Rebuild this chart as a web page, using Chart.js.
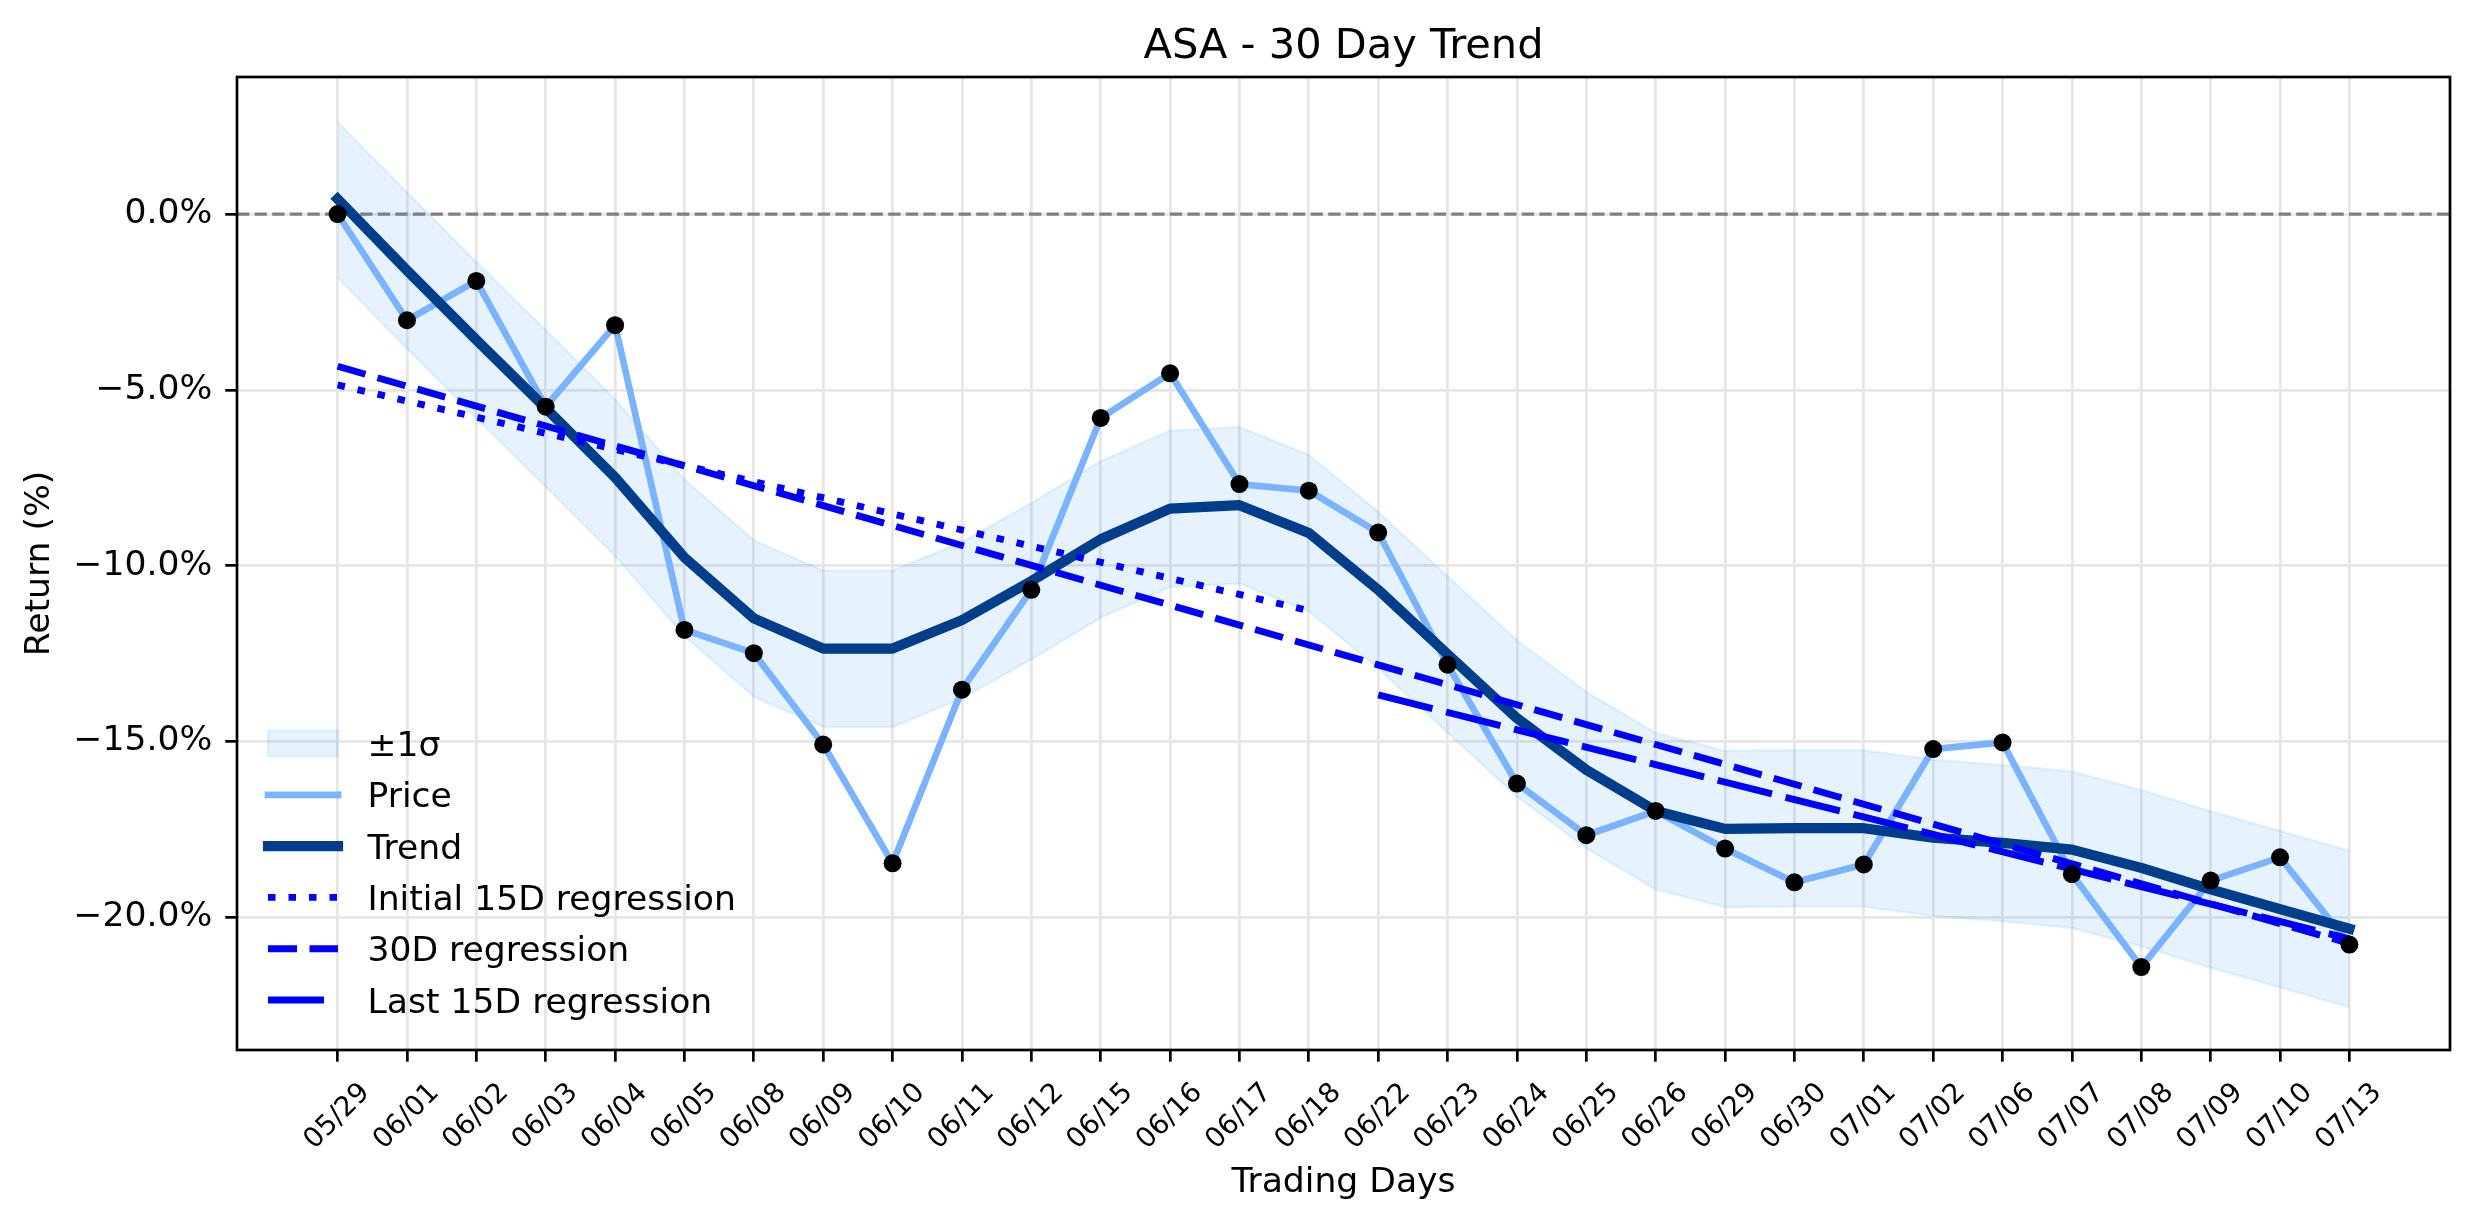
<!DOCTYPE html>
<html><head><meta charset="utf-8">
<script src="https://cdn.jsdelivr.net/npm/chart.js@4.4.1/dist/chart.umd.min.js"></script>
<style>html,body{margin:0;padding:0;background:#fff;}canvas{display:block;}</style>
</head><body>
<canvas id="c" width="2474" height="1224" style="width:2474px;height:1224px"></canvas>
<script>
// ---- data ----
const dates = ['05/29','06/01','06/02','06/03','06/04','06/05','06/08','06/09','06/10','06/11','06/12','06/15','06/16','06/17','06/18','06/22','06/23','06/24','06/25','06/26','06/29','06/30','07/01','07/02','07/06','07/07','07/08','07/09','07/10','07/13'];
const price = [0.00,-3.02,-1.90,-5.48,-3.16,-11.83,-12.49,-15.09,-18.47,-13.53,-10.69,-5.80,-4.53,-7.68,-7.87,-9.06,-12.82,-16.20,-17.67,-16.98,-18.05,-19.01,-18.50,-15.22,-15.03,-18.78,-21.42,-18.96,-18.30,-20.78];
const trend = [0.43,-1.60,-3.58,-5.52,-7.49,-9.77,-11.50,-12.36,-12.36,-11.55,-10.44,-9.25,-8.38,-8.28,-9.07,-10.69,-12.52,-14.34,-15.81,-16.98,-17.49,-17.47,-17.47,-17.74,-17.89,-18.08,-18.60,-19.21,-19.77,-20.33];
const bandUpper = [2.62,0.62,-1.36,-3.30,-5.27,-7.55,-9.28,-10.14,-10.14,-9.33,-8.22,-7.03,-6.16,-6.06,-6.85,-8.47,-10.30,-12.12,-13.59,-14.76,-15.27,-15.25,-15.25,-15.52,-15.67,-15.86,-16.38,-16.99,-17.55,-18.11];
const bandLower = [-1.80,-3.83,-5.81,-7.75,-9.72,-12.00,-13.73,-14.59,-14.59,-13.78,-12.67,-11.48,-10.61,-10.51,-11.30,-12.92,-14.75,-16.57,-18.04,-19.21,-19.72,-19.70,-19.70,-19.97,-20.12,-20.31,-20.83,-21.44,-22.00,-22.56];
const initialReg = [[0,-4.86],[14,-11.28]];
const fullReg = [[0,-4.33],[29,-20.75]];
const lastReg = [[15,-13.68],[29,-20.62]];
const yTicks = [-20,-15,-10,-5,0];
const zeroLineValue = 0;
const yRange = [-23.78, 3.90];
const legendLabels = ['\u00b11\u03c3','Price','Trend','Initial 15D regression','30D regression','Last 15D regression'];
const titleText = 'ASA - 30 Day Trend';
const xTitle = 'Trading Days';
const yTitle = 'Return (%)';

// ---- styles ----
const FONT = 'DejaVu Sans';
const FS_TITLE = 41.5, FS = 34.6, FS_XT = 27.7;
const C_PRICE = '#7ab3ff', C_TREND = '#003d8a', C_REG = '#0000ff';
const C_BAND = 'rgba(30,144,255,0.11)', C_BAND_EDGE = 'rgba(30,144,255,0.10)';
const DASH_DOT = [7.5,13], DASH_30 = [29,12.5], DASH_LAST = [56,14];
const LW_PRICE = 6.7, LW_TREND = 10.2, LW_REG = 6.9;

const pts = arr => arr.map((v,i)=>({x:i,y:v}));
const pairs = arr => arr.map(p=>({x:p[0],y:p[1]}));
const n = dates.length;

const zeroLinePlugin = {
  id:'zeroLine',
  beforeDatasetsDraw(chart){
    const {ctx, chartArea:a, scales:{y}} = chart;
    const py = y.getPixelForValue(zeroLineValue);
    ctx.save();
    ctx.strokeStyle = '#808080'; ctx.lineWidth = 3.3; ctx.setLineDash([12.3,5.3]);
    ctx.beginPath(); ctx.moveTo(a.left, py); ctx.lineTo(a.right, py); ctx.stroke();
    ctx.restore();
  }
};
const framePlugin = {
  id:'frame',
  afterDatasetsDraw(chart){
    const {ctx, chartArea:a} = chart;
    ctx.save(); ctx.strokeStyle='#000'; ctx.lineWidth=2.7; ctx.setLineDash([]);
    ctx.strokeRect(a.left, a.top, a.right-a.left, a.bottom-a.top);
    ctx.restore();
  }
};
const legendPlugin = {
  id:'mplLegend',
  afterDraw(chart){
    const {ctx, chartArea:a} = chart;
    const x0 = a.left + 31, x1 = a.left + 101, tx = a.left + 130.5;
    const styles = [
      {patch:true},
      {color:C_PRICE, lw:LW_PRICE, dash:[], cap:'square'},
      {color:C_TREND, lw:LW_TREND, dash:[], cap:'square'},
      {color:C_REG, lw:LW_REG, dash:DASH_DOT, cap:'butt'},
      {color:C_REG, lw:LW_REG, dash:DASH_30, cap:'butt'},
      {color:C_REG, lw:LW_REG, dash:DASH_LAST, cap:'butt'}
    ];
    ctx.save();
    legendLabels.forEach((lab,k)=>{
      const y = a.bottom - 50 - (legendLabels.length-1-k)*51.3;
      const s = styles[k];
      if (s.patch){
        ctx.fillStyle = C_BAND; ctx.fillRect(x0, y-13, x1-x0, 26);
        ctx.strokeStyle = C_BAND_EDGE; ctx.lineWidth = 2.5; ctx.strokeRect(x0, y-13, x1-x0, 26);
      } else {
        ctx.strokeStyle = s.color; ctx.lineWidth = s.lw; ctx.lineCap = s.cap; ctx.setLineDash(s.dash);
        ctx.beginPath(); ctx.moveTo(x0, y); ctx.lineTo(x1, y); ctx.stroke();
        ctx.setLineDash([]);
      }
      ctx.fillStyle = '#000'; ctx.font = FS+'px "'+FONT+'"';
      ctx.textAlign = 'left'; ctx.textBaseline = 'alphabetic';
      ctx.fillText(lab, tx, y + 12.5);
    });
    ctx.restore();
  }
};

new Chart(document.getElementById('c'), {
  type:'line',
  data:{
    datasets:[
      {label:'upper', data:pts(bandUpper), borderColor:C_BAND_EDGE, borderWidth:2.5, backgroundColor:C_BAND, fill:'+1', pointRadius:0, order:10},
      {label:'lower', data:pts(bandLower), borderColor:C_BAND_EDGE, borderWidth:2.5, fill:false, pointRadius:0, order:9},
      {label:'Price', data:pts(price), borderColor:C_PRICE, borderWidth:LW_PRICE, borderCapStyle:'square', borderJoinStyle:'round', pointRadius:0, fill:false, order:8},
      {label:'Trend', data:pts(trend), borderColor:C_TREND, borderWidth:LW_TREND, borderCapStyle:'square', borderJoinStyle:'round', pointRadius:0, fill:false, order:7},
      {label:'Initial', data:pairs(initialReg), borderColor:C_REG, borderWidth:LW_REG, borderDash:DASH_DOT, pointRadius:0, fill:false, order:6},
      {label:'30D', data:pairs(fullReg), borderColor:C_REG, borderWidth:LW_REG, borderDash:DASH_30, pointRadius:0, fill:false, order:5},
      {label:'Last', data:pairs(lastReg), borderColor:C_REG, borderWidth:LW_REG, borderDash:DASH_LAST, pointRadius:0, fill:false, order:4},
      {label:'dots', data:pts(price), showLine:false, pointRadius:9, pointHoverRadius:9, pointBackgroundColor:'#000', pointBorderWidth:0, order:1}
    ]
  },
  options:{
    responsive:false, devicePixelRatio:1, animation:false, events:[],
    layout:{padding:{left:0,right:24,top:0,bottom:0}},
    plugins:{
      legend:{display:false}, tooltip:{enabled:false},
      title:{display:true, text:titleText, fullSize:false, color:'#000', font:{family:FONT,size:FS_TITLE,weight:'normal'}, padding:{top:22,bottom:5.2}}
    },
    scales:{
      x:{
        type:'linear', min:-0.05*(n-1), max:(n-1)*1.05,
        afterBuildTicks:s=>{ s.ticks = dates.map((d,i)=>({value:i})); },
        afterFit:s=>{ s.height = 174; },
        ticks:{autoSkip:false, maxRotation:45, minRotation:45, padding:15, labelOffset:28, color:'#000', font:{family:FONT,size:FS_XT},
          callback:v=>dates[v]},
        grid:{color:'#e6e6e6', lineWidth:2.7, drawTicks:true, tickLength:11.7, tickColor:'#000', tickWidth:2.7},
        border:{display:false},
        title:{display:true, text:xTitle, color:'#000', font:{family:FONT,size:FS}, padding:{top:0,bottom:20}}
      },
      y:{
        type:'linear', min:yRange[0], max:yRange[1],
        afterBuildTicks:s=>{ s.ticks = yTicks.map(v=>({value:v})); },
        afterFit:s=>{ s.width = 237; },
        ticks:{padding:13, color:'#000', font:{family:FONT,size:FS},
          callback:v=>(v<0?'\u2212':'')+Math.abs(v).toFixed(1)+'%'},
        grid:{color:'#e6e6e6', lineWidth:2.7, drawTicks:true, tickLength:11.7, tickColor:'#000', tickWidth:2.7},
        border:{display:false},
        title:{display:true, text:yTitle, color:'#000', font:{family:FONT,size:FS}, padding:{top:19.5,bottom:0}}
      }
    }
  },
  plugins:[zeroLinePlugin, framePlugin, legendPlugin]
});
</script>
</body></html>
